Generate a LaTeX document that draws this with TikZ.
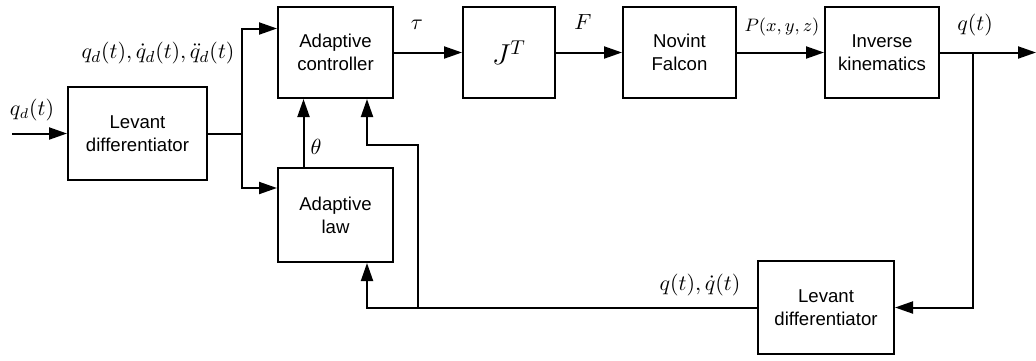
\documentclass[tikz,border=0pt]{standalone}
\usepackage[no-math]{fontspec}
\setmainfont{Liberation Sans}
\usetikzlibrary{arrows.meta}
\begin{document}
\begin{tikzpicture}[x=0.5pt,y=-0.5pt,
  blk/.style={draw,line width=1pt,rectangle,align=center,inner sep=0pt,
    font=\fontsize{9.3}{11.5}\selectfont},
  conn/.style={line width=1pt,-{Triangle[length=9pt,width=6pt]}},
  wire/.style={line width=1pt},
  lab/.style={inner sep=0pt,font=\fontsize{10.5}{12}\selectfont}]
\useasboundingbox (0,0) rectangle (1036,360);
\node[blk,minimum width=69.5pt,minimum height=46.5pt] (lev1) at (137.5,133.5) {Levant\\differentiator};
\node[blk,minimum width=57.5pt,minimum height=45.5pt] (ctrl) at (335.5,52.5) {Adaptive\\controller};
\node[blk,minimum width=57.5pt,minimum height=47pt] (law) at (335.5,215) {Adaptive\\law};
\node[blk,minimum width=46pt,minimum height=45.5pt,font=\fontsize{14}{16}\selectfont] (jt) at (509,52.5) {$J^T$};
\node[blk,minimum width=56.5pt,minimum height=45.5pt] (fal) at (679.5,52.5) {Novint\\Falcon};
\node[blk,minimum width=57pt,minimum height=45.5pt] (ik) at (882,52.5) {Inverse\\kinematics};
\node[blk,minimum width=68pt,minimum height=46.5pt] (lev2) at (826,307.5) {Levant\\differentiator};

\coordinate (in) at (12,133.5);
\coordinate (br) at (242,133.5);
\coordinate (out) at (1036,52.5);
\coordinate (fb) at (973,52.5);

\draw[conn] (in) -- (lev1.west);
\draw[wire] (lev1.east) -- (br);
\draw[conn] (br) |- ([yshift=12pt]ctrl.west);
\draw[conn] (br) |- ([yshift=13.5pt]law.west);
\draw[conn] ([xshift=-16pt]law.north) -- ([xshift=-16pt]ctrl.south);
\draw[conn] (ctrl.east) -- (jt.west);
\draw[conn] (jt.east) -- (fal.west);
\draw[conn] (fal.east) -- (ik.west);
\draw[conn] (ik.east) -- (out);
\draw[conn] (fb) |- (lev2.east);
\coordinate (j1) at (418,307.5);
\draw[conn] (lev2.west) -- (367,307.5) -- ([xshift=15.75pt]law.south);
\draw[conn] (j1) -- (418,145) -- (367,145) -- ([xshift=15.75pt]ctrl.south);

\node[lab] (lq) at (32,110) {$q_d(t)$};
\node[lab,font=\fontsize{11}{12}\selectfont] (lqd) at (158,53) {$q_d(t),\dot q_d(t),\ddot q_d(t)$};
\node[lab] (lth) at (316,147) {$\theta$};
\node[lab] (ltau) at (417,25) {$\tau$};
\node[lab] (lF) at (583,22) {$F$};
\node[lab,font=\fontsize{9.5}{11}\selectfont] (lP) at (782,27) {$P(x,y,z)$};
\node[lab] (lqt) at (975,25) {$q(t)$};
\node[lab] (lqq) at (700,285) {$q(t),\dot q(t)$};
\end{tikzpicture}
\end{document}
